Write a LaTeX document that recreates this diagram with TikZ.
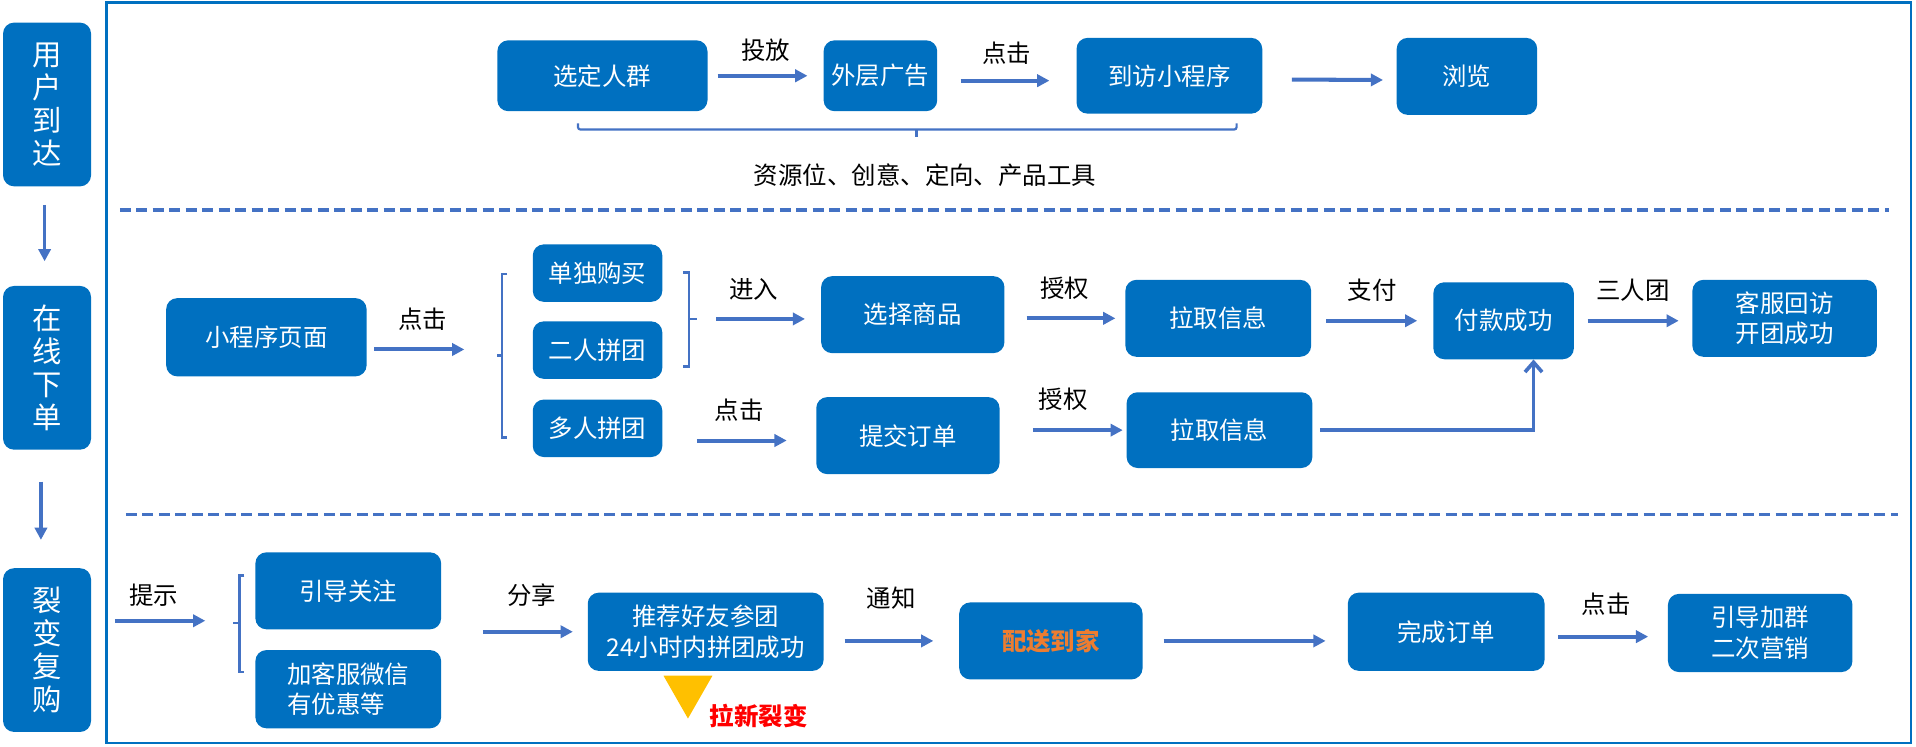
\documentclass[tikz,border=0pt]{standalone}
\usepackage{fontspec}
\setmainfont{Noto Sans CJK SC}
\usepackage{tikz}
\usetikzlibrary{arrows.meta}

\definecolor{boxblue}{HTML}{0070C0}
\definecolor{lineblue}{HTML}{4472C4}
\definecolor{tipyellow}{HTML}{FFC000}
\definecolor{hotorange}{HTML}{ED7D31}

\begin{document}
\begin{tikzpicture}[x=1pt,y=-1pt,>={Triangle[length=10pt,width=10pt]}]
  \tikzstyle{box}=[fill=boxblue,text=white,rounded corners=9pt,inner sep=0pt,
                   align=center,font=\fontsize{20pt}{25pt}\selectfont]
  \tikzstyle{tag}=[box,minimum width=72pt,minimum height=134pt,
                   font=\fontsize{24pt}{27pt}\selectfont]
  \tikzstyle{flow}=[->,draw=lineblue,line width=3.3pt]
  \tikzstyle{note}=[inner sep=0pt,text=black,font=\fontsize{20pt}{24pt}\selectfont]
  \tikzstyle{lbl}[14pt]=[note,above=#1]
  \tikzstyle{brk}=[draw=lineblue,line width=1.8pt]
  \tikzstyle{sep}=[draw=lineblue,line width=3pt,dash pattern=on 9pt off 4.5pt]

  \useasboundingbox (0,0) rectangle (1568,611);
  \draw[boxblue,line width=2.2pt] (87,2) rectangle (1564,608);

  % stages
  \node[tag] (arrive) at (38.5,85.5) {用\\户\\到\\达};
  \node[tag] (order)  at (38.5,301)  {在\\线\\下\\单};
  \node[tag] (viral)  at (38.5,532)  {裂\\变\\复\\购};
  \draw[flow,line width=3pt,shorten <=15pt,shorten >=20pt]
    ([xshift=-2pt]arrive.south) -- ([xshift=-2pt]order.north);
  \draw[flow,line width=3pt,shorten <=26pt,shorten >=23pt]
    ([xshift=-5pt]order.south) -- ([xshift=-5pt]viral.north);

  % row 1
  \node[box,minimum width=172pt,minimum height=58pt] (crowd)  at (493,62)    {选定人群};
  \node[box,minimum width=93pt,minimum height=58pt]  (adv)    at (720.5,62)  {外层广告};
  \node[box,minimum width=152pt,minimum height=62pt] (visit)  at (957,62)    {到访小程序};
  \node[box,minimum width=115pt,minimum height=63pt] (browse) at (1200.5,62.5) {浏览};

  \draw[flow,shorten <=8pt,shorten >=13pt] (crowd.east) -- node[lbl=10pt] (lPut) {投放} (adv.west);
  \draw[flow,shorten <=19pt,shorten >=22pt]
    ([yshift=-4pt]adv.east) -- node[lbl=12pt] (lClickA) {点击} ([yshift=-4pt]visit.west);
  \draw[flow,shorten <=24pt,shorten >=11pt] ([yshift=-3pt]visit.east) -- ([yshift=-3pt]browse.west);

  \draw[brk,rounded corners=2pt] (473,101) -- (473,106) -- (1012,106) -- (1012,101);
  \draw[brk] (750,106) -- (750,112);
  \node[note] (tools) at (757,143) {资源位、创意、定向、产品工具};

  \draw[sep] (98,172) -- (1546,172);

  % row 2
  \node[box,minimum width=164pt,minimum height=64pt] (page)    at (218,276)     {小程序页面};
  \node[box,minimum width=106pt,minimum height=47pt] (solo)    at (489,223.5)   {单独购买};
  \node[box,minimum width=106pt,minimum height=47pt] (duo)     at (489,286.5)   {二人拼团};
  \node[box,minimum width=106pt,minimum height=47pt] (multi)   at (489,350.5)   {多人拼团};
  \node[box,minimum width=150pt,minimum height=63pt] (pick)    at (747,257.5)   {选择商品};
  \node[box,minimum width=152pt,minimum height=63pt] (infoA)   at (997,260.5)   {拉取信息};
  \node[box,minimum width=150pt,minimum height=63pt] (submit)  at (743,356.5)   {提交订单};
  \node[box,minimum width=152pt,minimum height=62pt] (infoB)   at (998,352)     {拉取信息};
  \node[box,minimum width=115pt,minimum height=63pt] (paid)    at (1230.5,262.5) {付款成功};
  \node[box,minimum width=151pt,minimum height=63pt] (revisit) at (1460.5,260.5) {客服回访\\开团成功};

  \coordinate (braceIn)  at (407,291);
  \coordinate (braceOut) at (570,261);
  \draw[brk] (415,224) -- (411,224) -- (411,358) -- (415,358);
  \draw[brk] (411,291) -- (braceIn);
  \draw[brk] (559,223) -- (564,223) -- (564,300) -- (559,300);
  \draw[brk] (564,261) -- (braceOut);

  \draw[flow,shorten <=6pt,shorten >=27pt]
    ([yshift=-10pt]page.east) -- node[lbl,pos=0.43] (lClickB) {点击} ([yshift=-10pt]page.east -| braceIn);
  \draw[flow,shorten <=16pt,shorten >=13pt]
    (braceOut) -- node[lbl,pos=0.46] (lEnter) {进入} (braceOut -| pick.west);
  \draw[flow,shorten <=18pt,shorten >=8pt] (pick.east |- infoA) -- node[lbl] (lAuthA) {授权} (infoA.west);
  \draw[flow,shorten <=12pt,shorten >=13pt] (infoA.east |- paid) -- node[lbl] (lPay) {支付} (paid.west);
  \draw[flow,shorten <=11pt,shorten >=11pt]
    (paid.east) -- node[lbl] (lThree) {三人团} (paid.east -| revisit.west);
  \draw[flow,shorten <=28pt,shorten >=24pt]
    ([yshift=-10pt]multi.east) -- node[lbl] (lClickC) {点击} ([yshift=-10pt]multi.east -| submit.west);
  \draw[flow,shorten <=27pt,shorten >=3pt] (submit.east |- infoB) -- node[lbl] (lAuthB) {授权} (infoB.west);
  \draw[draw=lineblue,line width=3pt,-{Straight Barb[length=8pt,width=14pt]},shorten <=6pt]
    (infoB.east) -| ([xshift=24.5pt]paid.south);

  \draw[sep] (103,421) -- (1553,421);

  % row 3
  \node[box,minimum width=152pt,minimum height=63pt] (follow)  at (285,483.5)  {引导关注};
  \node[box,minimum width=152pt,minimum height=64pt,align=left] (wechat) at (285,564) {加客服微信\\有优惠等};
  \node[box,minimum width=193pt,minimum height=64pt] (invite)  at (577.5,517)  {推荐好友参团\\24小时内拼团成功};
  \node[box,minimum width=150pt,minimum height=63pt,text=hotorange,
        font=\bfseries\fontsize{20pt}{25pt}\selectfont] (deliver) at (860,524.5) {配送到家};
  \node[box,minimum width=161pt,minimum height=64pt] (done)    at (1183.5,517) {完成订单};
  \node[box,minimum width=151pt,minimum height=64pt] (regroup) at (1440.5,518) {引导加群\\二次营销};

  \coordinate (hintStart) at (94,508);
  \coordinate (braceTip)  at (191,510);
  \draw[brk] (200,471) -- (196,471) -- (196,550) -- (200,550);
  \draw[brk] (196,510) -- (braceTip);

  \draw[flow,shorten >=23pt] (hintStart) -- node[lbl=10pt,pos=0.33] (lHint) {提示} (hintStart -| braceTip);
  \draw[flow,shorten <=34pt,shorten >=12pt]
    (follow.east |- invite) -- node[lbl=19pt,pos=0.62] (lShare) {分享} (invite.west);
  \draw[flow,shorten <=17pt,shorten >=21pt]
    (invite.east |- deliver) -- node[lbl=24pt] (lNotify) {通知} (deliver.west);
  \draw[flow,shorten <=17pt,shorten >=18pt] (deliver.east) -- (deliver.east -| done.west);
  \draw[flow,shorten <=11pt,shorten >=16pt]
    ([yshift=-4pt]done.east) -- node[lbl=16pt] (lClickD) {点击} ([yshift=-4pt]done.east -| regroup.west);

  \fill[tipyellow] (543,553) -- (583,553) -- (563,588) -- cycle;
  \node[note,text=red,font=\bfseries\fontsize{20pt}{24pt}\selectfont] (pullNew) at (621,586) {拉新裂变};
\end{tikzpicture}
\end{document}
